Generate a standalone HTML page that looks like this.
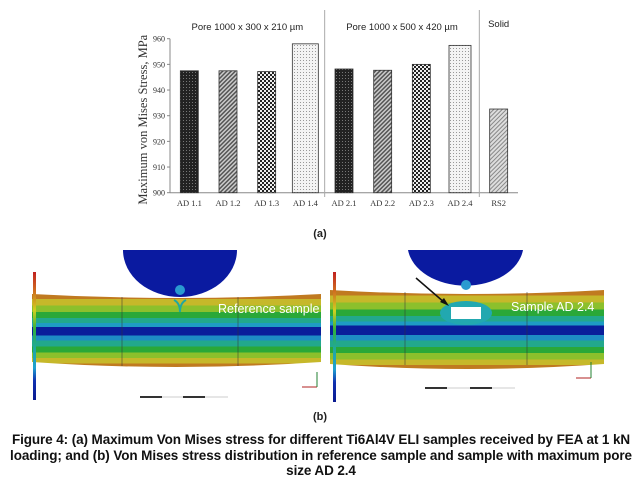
<!DOCTYPE html>
<html><head><meta charset="utf-8"><style>
body{margin:0;background:#fff;width:642px;height:494px;overflow:hidden;position:relative;font-family:"Liberation Sans",sans-serif}
.cap{position:absolute;left:0;width:642px;text-align:center;font-weight:bold;font-size:13.5px;color:#111;line-height:15.5px;letter-spacing:-0.1px;white-space:nowrap}
</style></head><body>
<svg width="642" height="494" style="position:absolute;left:0;top:0">
<defs>
<pattern id="p1" width="3" height="3" patternUnits="userSpaceOnUse"><rect width="3" height="3" fill="#222"/><rect width="1" height="1" fill="#777"/></pattern>
<pattern id="p2" width="3" height="3" patternUnits="userSpaceOnUse" patternTransform="rotate(45)"><rect width="3" height="3" fill="#ccc"/><rect width="1.5" height="3" fill="#555"/></pattern>
<pattern id="p3" width="4" height="4" patternUnits="userSpaceOnUse"><rect width="4" height="4" fill="#eee"/><rect width="2" height="2" fill="#222"/><rect x="2" y="2" width="2" height="2" fill="#222"/></pattern>
<pattern id="p4" width="3" height="3" patternUnits="userSpaceOnUse"><rect width="3" height="3" fill="#f4f4f4"/><rect width="1" height="1" fill="#999"/></pattern>
<pattern id="p5" width="3" height="3" patternUnits="userSpaceOnUse" patternTransform="rotate(45)"><rect width="3" height="3" fill="#ddd"/><rect width="1" height="3" fill="#888"/></pattern>
<linearGradient id="beam" x1="0" y1="0" x2="0" y2="1">
<stop offset="0" stop-color="#c07a20"/><stop offset=".07" stop-color="#c07a20"/>
<stop offset=".07" stop-color="#c6b82a"/><stop offset=".16" stop-color="#c6b82a"/>
<stop offset=".16" stop-color="#8cc02c"/><stop offset=".25" stop-color="#8cc02c"/>
<stop offset=".25" stop-color="#2aa838"/><stop offset=".33" stop-color="#2aa838"/>
<stop offset=".33" stop-color="#22a88c"/><stop offset=".40" stop-color="#22a88c"/>
<stop offset=".40" stop-color="#1e9cc4"/><stop offset=".45" stop-color="#1e9cc4"/>
<stop offset=".45" stop-color="#0a1e9a"/><stop offset=".57" stop-color="#0a1e9a"/>
<stop offset=".57" stop-color="#1e8cc4"/><stop offset=".64" stop-color="#1e8cc4"/>
<stop offset=".64" stop-color="#22a88c"/><stop offset=".72" stop-color="#22a88c"/>
<stop offset=".72" stop-color="#2aa838"/><stop offset=".80" stop-color="#2aa838"/>
<stop offset=".80" stop-color="#8cc02c"/><stop offset=".88" stop-color="#8cc02c"/>
<stop offset=".88" stop-color="#c6b82a"/><stop offset=".95" stop-color="#c6b82a"/>
<stop offset=".95" stop-color="#c07a20"/><stop offset="1" stop-color="#c07a20"/>
</linearGradient>
<linearGradient id="leg" x1="0" y1="0" x2="0" y2="1">
<stop offset="0" stop-color="#c02020"/><stop offset=".15" stop-color="#d07020"/><stop offset=".3" stop-color="#d0d020"/><stop offset=".45" stop-color="#30b040"/><stop offset=".6" stop-color="#20a8a0"/><stop offset=".75" stop-color="#20a0d0"/><stop offset=".85" stop-color="#1030b0"/><stop offset="1" stop-color="#0a1a90"/>
</linearGradient>
</defs>
<g id="chart"></g>

<g>
<path d="M32,294 Q176,302 321,294 L321,362 Q176,372 32,362 Z" fill="url(#beam)"/>
<path d="M123,250 A57,47 0 0 0 237,250 Z" fill="#0a1aa0"/>
<circle cx="180" cy="290" r="5" fill="#2a9ad0"/>
<path d="M174,300 Q180,303 180,312 Q180,303 186,300" fill="none" stroke="#20a8a0" stroke-width="2"/>
<rect x="33" y="272" width="3" height="128" fill="url(#leg)"/>
<line x1="122" y1="297" x2="122" y2="366" stroke="#333" stroke-width=".5"/><line x1="238" y1="297" x2="238" y2="366" stroke="#333" stroke-width=".5"/>
<text x="218" y="313" fill="#fff" font-size="12.5">Reference sample</text>
<rect x="140" y="396" width="22" height="2" fill="#111"/><rect x="183" y="396" width="22" height="2" fill="#111"/><line x1="140" y1="397" x2="228" y2="397" stroke="#999" stroke-width=".5"/>
<line x1="302" y1="387" x2="317" y2="387" stroke="#b02020"/><line x1="317" y1="387" x2="317" y2="372" stroke="#208030"/>
</g>
<g>
<path d="M330,290 Q467,298 604,290 L604,364 Q467,374 330,364 Z" fill="url(#beam)"/>
<path d="M408,250 A58,41 0 0 0 523,250 Z" fill="#0a1aa0"/>
<circle cx="466" cy="285" r="5" fill="#2a9ad0"/>
<ellipse cx="466" cy="313" rx="26" ry="12" fill="#22a8b0"/>
<rect x="451" y="307" width="30" height="12" fill="#fff"/>
<rect x="333" y="272" width="3" height="130" fill="url(#leg)"/>
<line x1="405" y1="292" x2="405" y2="365" stroke="#333" stroke-width=".5"/><line x1="527" y1="292" x2="527" y2="365" stroke="#333" stroke-width=".5"/>
<line x1="416" y1="278" x2="445" y2="303" stroke="#111" stroke-width="1.5"/><polygon points="449,306 440,302 444,298" fill="#111"/>
<text x="511" y="311" fill="#fff" font-size="12.5">Sample AD 2.4</text>
<rect x="425" y="387" width="22" height="2" fill="#111"/><rect x="470" y="387" width="22" height="2" fill="#111"/><line x1="425" y1="388" x2="515" y2="388" stroke="#999" stroke-width=".5"/>
<line x1="576" y1="378" x2="591" y2="378" stroke="#b02020"/><line x1="591" y1="378" x2="591" y2="362" stroke="#208030"/>
</g>
<text x="320" y="420" text-anchor="middle" font-size="11" font-weight="bold" fill="#222">(b)</text>
<text x="320" y="237" text-anchor="middle" font-size="11" font-weight="bold" fill="#222">(a)</text>
</svg>
<div class="cap" style="top:432px">Figure 4: (a) Maximum Von Mises stress for different Ti6Al4V ELI samples received by FEA at 1 kN<br>loading; and (b) Von Mises stress distribution in reference sample and sample with maximum pore<br>size AD 2.4</div>
<script>
const categories=["AD 1.1","AD 1.2","AD 1.3","AD 1.4","AD 2.1","AD 2.2","AD 2.3","AD 2.4","RS2"];
const values=[947.5,947.5,947.2,958,948.2,947.7,950,957.4,932.6];
const patterns=["p1","p2","p3","p4","p1","p2","p3","p4","p5"];
const yTicks=[900,910,920,930,940,950,960];
const groupLabels=["Pore 1000 x 300 x 210 \u00b5m","Pore 1000 x 500 x 420 \u00b5m","Solid"];
const groupSizes=[4,4,1];
const NS="http://www.w3.org/2000/svg";
const g=document.getElementById('chart');
const x0=170,x1=518,yTop=38.7,yBot=192.7,yMin=900,yMax=960;
const band=(x1-x0)/categories.length;
const xc=i=>x0+band*(i+0.5);
const ys=v=>yBot-(v-yMin)/(yMax-yMin)*(yBot-yTop);
function mk(t,a){const e=document.createElementNS(NS,t);for(const k in a)e.setAttribute(k,a[k]);g.appendChild(e);return e;}
let ax=mk('line',{x1:x0,y1:yTop,x2:x0,y2:yBot,stroke:'#888'});


let bx=mk('line',{x1:x0,y1:yBot,x2:x1,y2:yBot,stroke:'#888'});


yTicks.forEach(t=>{
 mk('line',{x1:x0-3,y1:ys(t),x2:x0,y2:ys(t),stroke:'#888'});
 const tx=mk('text',{x:x0-5,y:ys(t)+3,'text-anchor':'end','font-size':'8','font-family':'Liberation Serif,serif',fill:'#333'});
 tx.textContent=t;
 
 
});
const yl=mk('text',{x:0,y:0,transform:`translate(147,${(yTop+yBot)/2+4}) rotate(-90)`,'text-anchor':'middle','font-size':'12.5','font-family':'Liberation Serif,serif',fill:'#333'});
yl.textContent='Maximum  von Mises Stress, MPa';


categories.forEach((c,i)=>{
 const w=i===3?26:(i===7?22:18);
 const r=mk('rect',{x:xc(i)-w/2,y:ys(values[i]),width:w,height:yBot-ys(values[i]),fill:`url(#${patterns[i]})`,stroke:'#333','stroke-width':'0.8'});
 
 
 const t=mk('text',{x:xc(i),y:206,'text-anchor':'middle','font-size':'8.5','font-family':'Liberation Serif,serif',fill:'#333'});
 t.textContent=c;
 
 
});
let start=0;
groupSizes.forEach((n,gi)=>{
 const cx=x0+band*(start+n/2);
 const t=mk('text',{x:cx,y:gi===2?27:30,'text-anchor':'middle','font-size':'9.5',fill:'#222'});
 t.textContent=groupLabels[gi];
 
 
 start+=n;
 if(gi<groupSizes.length-1){
  const l=mk('line',{x1:x0+band*start,y1:10,x2:x0+band*start,y2:197,stroke:'#aaa'});
  
  
 }
});
</script>
</body></html>
